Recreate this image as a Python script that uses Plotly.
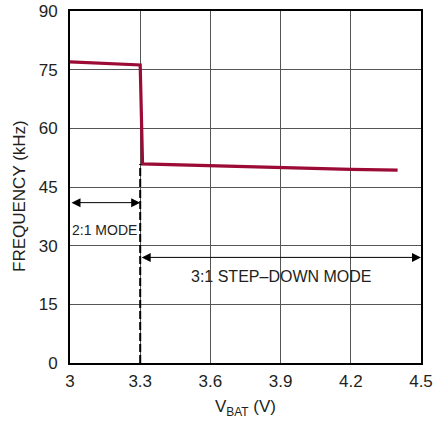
import plotly.graph_objects as go

vbat = [3.0, 3.3, 3.31, 3.6, 3.9, 4.2, 4.4]
freq = [77.0, 76.2, 50.9, 50.4, 49.9, 49.5, 49.3]

x_ticks = [3.0, 3.3, 3.6, 3.9, 4.2, 4.5]
x_tick_labels = ["3", "3.3", "3.6", "3.9", "4.2", "4.5"]
y_ticks = [0, 15, 30, 45, 60, 75, 90]

mode_boundary = 3.3
arrow21_y = 41
arrow31_y = 27
label21 = "2:1 MODE"
label31 = "3:1 STEP–DOWN MODE"

FONT = "Liberation Sans, Arial, sans-serif"
LINE_COLOR = "#9b0b35"
TXT = "#231f20"

W, H = 434, 421
ML, MR, MT, MB = 70, 13, 11, 58
PW = W - ML - MR
PH = H - MT - MB

fig = go.Figure()

fig.add_trace(go.Scatter(
    x=vbat, y=freq, mode="lines",
    line=dict(color=LINE_COLOR, width=3.2),
    showlegend=False, hoverinfo="skip",
))

# dashed boundary
fig.add_shape(type="line", x0=mode_boundary, x1=mode_boundary, y0=0, y1=freq[2],
              xref="x", yref="y", line=dict(color="black", width=2, dash="8px,3px"), layer="above")

# 2:1 arrow
fig.add_annotation(x=mode_boundary, y=arrow21_y, ax=3.0, ay=arrow21_y, xref="x", yref="y",
                   axref="x", ayref="y", text="", showarrow=True, arrowhead=2, startarrowhead=2,
                   arrowside="end+start", arrowsize=1.8, startarrowsize=1.8, arrowwidth=1, arrowcolor="black")
fig.add_annotation(x=3.148, y=34, xref="x", yref="y", text=label21, showarrow=False,
                   font=dict(family=FONT, size=14, color=TXT), bgcolor="white")

# 3:1 arrow
fig.add_annotation(x=4.5, y=arrow31_y, ax=mode_boundary, ay=arrow31_y, xref="x", yref="y",
                   axref="x", ayref="y", text="", showarrow=True, arrowhead=2, startarrowhead=2,
                   arrowside="end+start", arrowsize=1.8, startarrowsize=1.8, arrowwidth=1, arrowcolor="black")
fig.add_annotation(x=3.9, y=22, xref="x", yref="y", text=label31, showarrow=False,
                   font=dict(family=FONT, size=16, color=TXT))

# axis titles
fig.add_annotation(x=-51 / PW, y=(H - MB - 196) / PH, xref="paper", yref="paper",
                   text="FREQUENCY (kHz)", showarrow=False, textangle=-90,
                   xanchor="center", yanchor="middle",
                   font=dict(family=FONT, size=17, color=TXT))
fig.add_annotation(x=0.5, y=-45 / PH, xref="paper", yref="paper", text="V<sub>BAT</sub> (V)",
                   showarrow=False, xanchor="center", yanchor="middle",
                   font=dict(family=FONT, size=17, color=TXT))

fig.update_layout(
    width=W, height=H,
    margin=dict(l=ML, r=MR, t=MT, b=MB),
    paper_bgcolor="white", plot_bgcolor="white",
    font=dict(family=FONT, size=17, color=TXT),
    xaxis=dict(range=[3.0, 4.5], tickvals=x_ticks, ticktext=x_tick_labels,
               showgrid=True, gridcolor="#555", gridwidth=1, zeroline=False,
               showline=True, linecolor="black", linewidth=2, mirror=True, ticks="",
               ticklabelstandoff=2, ticklabeloverflow="allow", automargin=False,
               tickfont=dict(size=17)),
    yaxis=dict(range=[0, 90], tickvals=y_ticks, showgrid=True, gridcolor="#555", gridwidth=1,
               zeroline=False, showline=True, linecolor="black", linewidth=2, mirror=True, ticks="",
               ticklabelstandoff=7, ticklabeloverflow="allow", automargin=False,
               tickfont=dict(size=17)),
)

fig.write_html("out.html", config={"displayModeBar": False},
               post_script="document.body.style.margin='0';")
